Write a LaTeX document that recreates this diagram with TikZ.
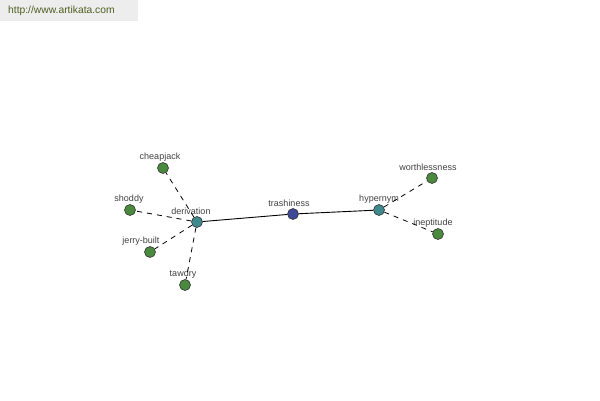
\documentclass[tikz,border=0pt]{standalone}
\usepackage{fontspec}
\setmainfont{Liberation Sans}
\begin{document}
\begin{tikzpicture}[x=1pt,y=-1pt,
  dot/.style={circle,draw=black!80,line width=0.6pt,inner sep=0pt,minimum size=11pt},
  leaf/.style={dot,fill=leafgreen},
  hub/.style={dot,fill=hubteal},
  core/.style={dot,fill=corenavy},
  lbl/.style={font=\fontsize{9}{10}\selectfont,text=black!75,inner sep=0pt},
  rel/.style={draw=black,line width=0.8pt,dash pattern=on 5pt off 5pt},
  main/.style={draw=black,line width=0.9pt}]
\definecolor{leafgreen}{HTML}{4A8A3E}
\definecolor{hubteal}{HTML}{3E8A8C}
\definecolor{corenavy}{HTML}{3E4A96}
\definecolor{urlgreen}{HTML}{4F5F22}
\useasboundingbox (0,0) rectangle (600,400);
\fill[black!7] (0,0) rectangle (138,21);
\node[anchor=west,inner sep=0pt,text=urlgreen,font=\fontsize{10.3}{12}\selectfont] (url) at (8,11) {http://www.artikata.com};
% nodes
\node[core] (trash) at (293,214) {};
\node[hub] (deriv) at (197,222) {};
\node[hub] (hyper) at (379,210) {};
\node[leaf] (cheap) at (163,168) {};
\node[leaf] (shoddy) at (130,210) {};
\node[leaf] (jerry) at (150,252) {};
\node[leaf] (tawdry) at (185,285) {};
\node[leaf] (worth) at (432,178) {};
\node[leaf] (inept) at (438,234) {};
% labels
\node[lbl] (ltrash) at (289,203) {trashiness};
\node[lbl] (lderiv) at (191,211) {derivation};
\node[lbl] (lhyper) at (379,199) {hypernym};
\node[lbl] (lcheap) at (160,157) {cheapjack};
\node[lbl] (lshoddy) at (129,199) {shoddy};
\node[lbl] (ljerry) at (141,241) {jerry-built};
\node[lbl] (ltawdry) at (183,274) {tawdry};
\node[lbl] (lworth) at (428,167) {worthlessness};
\node[lbl] (linept) at (433,223) {ineptitude};
% edges
\draw[main] (deriv) -- (trash);
\draw[main] (trash) -- (hyper);
\draw[rel] (deriv) -- (cheap);
\draw[rel] (deriv) -- (shoddy);
\draw[rel] (deriv) -- (jerry);
\draw[rel] (deriv) -- (tawdry);
\draw[rel] (hyper) -- (worth);
\draw[rel] (hyper) -- (inept);
\end{tikzpicture}
\end{document}
